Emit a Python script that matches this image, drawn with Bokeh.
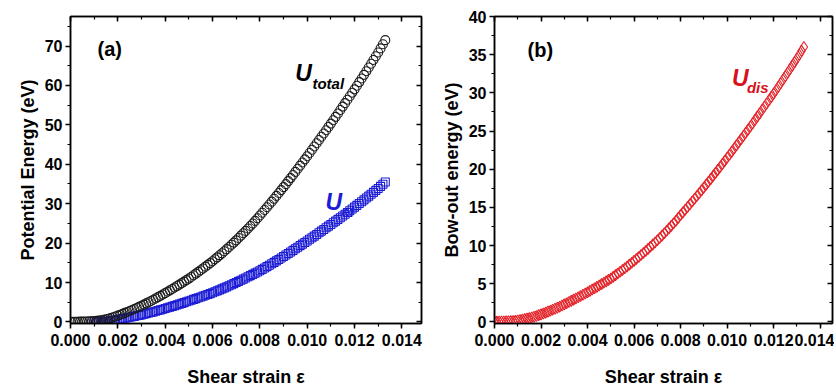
from bokeh.plotting import figure
from bokeh.models import (LinearAxis, SingleIntervalTicker, NumeralTickFormatter,
                          Range1d, Label, CustomJSTickFormatter)
from bokeh.layouts import row
from bokeh.embed import file_html
from bokeh.resources import INLINE

# ---------------- data ----------------
strain = [
    0.0000, 0.0001, 0.0002, 0.0003, 0.0004, 0.0005, 0.0006, 0.0007, 0.0008, 0.0009,
    0.0010, 0.0011, 0.0012, 0.0013, 0.0014, 0.0015, 0.0016, 0.0017, 0.0018, 0.0019,
    0.0020, 0.0021, 0.0022, 0.0023, 0.0024, 0.0025, 0.0026, 0.0027, 0.0028, 0.0029,
    0.0030, 0.0031, 0.0032, 0.0033, 0.0034, 0.0035, 0.0036, 0.0037, 0.0038, 0.0039,
    0.0040, 0.0041, 0.0042, 0.0043, 0.0044, 0.0045, 0.0046, 0.0047, 0.0048, 0.0049,
    0.0050, 0.0051, 0.0052, 0.0053, 0.0054, 0.0055, 0.0056, 0.0057, 0.0058, 0.0059,
    0.0060, 0.0061, 0.0062, 0.0063, 0.0064, 0.0065, 0.0066, 0.0067, 0.0068, 0.0069,
    0.0070, 0.0071, 0.0072, 0.0073, 0.0074, 0.0075, 0.0076, 0.0077, 0.0078, 0.0079,
    0.0080, 0.0081, 0.0082, 0.0083, 0.0084, 0.0085, 0.0086, 0.0087, 0.0088, 0.0089,
    0.0090, 0.0091, 0.0092, 0.0093, 0.0094, 0.0095, 0.0096, 0.0097, 0.0098, 0.0099,
    0.0100, 0.0101, 0.0102, 0.0103, 0.0104, 0.0105, 0.0106, 0.0107, 0.0108, 0.0109,
    0.0110, 0.0111, 0.0112, 0.0113, 0.0114, 0.0115, 0.0116, 0.0117, 0.0118, 0.0119,
    0.0120, 0.0121, 0.0122, 0.0123, 0.0124, 0.0125, 0.0126, 0.0127, 0.0128, 0.0129,
    0.0130, 0.0131, 0.0132, 0.0133,
]

u_total = [
    0.05, 0.05, 0.06, 0.06, 0.07, 0.08, 0.09, 0.11, 0.13, 0.16,
    0.20, 0.26, 0.34, 0.43, 0.54, 0.66, 0.81, 0.98, 1.17, 1.38,
    1.60, 1.82, 2.05, 2.29, 2.53, 2.78, 3.03, 3.28, 3.55, 3.82,
    4.10, 4.40, 4.71, 5.01, 5.32, 5.64, 5.96, 6.28, 6.62, 6.95,
    7.30, 7.65, 8.01, 8.36, 8.73, 9.10, 9.47, 9.84, 10.22, 10.61,
    11.00, 11.41, 11.84, 12.26, 12.69, 13.13, 13.57, 14.02, 14.47, 14.93,
    15.40, 15.89, 16.39, 16.90, 17.41, 17.94, 18.47, 19.02, 19.57, 20.13,
    20.70, 21.29, 21.89, 22.49, 23.10, 23.71, 24.34, 24.98, 25.63, 26.31,
    27.00, 27.69, 28.39, 29.09, 29.80, 30.52, 31.24, 31.98, 32.71, 33.45,
    34.20, 34.96, 35.73, 36.50, 37.28, 38.07, 38.86, 39.65, 40.45, 41.25,
    42.05, 42.86, 43.68, 44.50, 45.33, 46.16, 46.99, 47.82, 48.65, 49.48,
    50.32, 51.18, 52.04, 52.90, 53.77, 54.64, 55.51, 56.38, 57.26, 58.14,
    59.02, 59.93, 60.84, 61.76, 62.69, 63.62, 64.56, 65.50, 66.45, 67.40,
    68.36, 69.40, 70.45, 71.50,
]

# elastic energy: points start at strain 0.0010
strain_el = strain[10:]
u_el = [
    0.00, 0.01, 0.03, 0.06, 0.10, 0.15, 0.22, 0.30, 0.39, 0.49,
    0.60, 0.71, 0.82, 0.94, 1.06, 1.18, 1.30, 1.42, 1.55, 1.67,
    1.80, 1.95, 2.10, 2.25, 2.40, 2.56, 2.72, 2.88, 3.05, 3.22,
    3.40, 3.58, 3.76, 3.94, 4.13, 4.32, 4.51, 4.70, 4.90, 5.10,
    5.30, 5.50, 5.71, 5.91, 6.12, 6.33, 6.54, 6.75, 6.96, 7.18,
    7.40, 7.64, 7.88, 8.13, 8.38, 8.64, 8.90, 9.17, 9.44, 9.72,
    10.00, 10.29, 10.58, 10.87, 11.16, 11.45, 11.75, 12.06, 12.37, 12.68,
    13.00, 13.34, 13.69, 14.04, 14.39, 14.75, 15.11, 15.48, 15.85, 16.22,
    16.60, 16.98, 17.37, 17.76, 18.15, 18.55, 18.95, 19.35, 19.75, 20.15,
    20.55, 20.96, 21.37, 21.78, 22.20, 22.62, 23.04, 23.46, 23.88, 24.30,
    24.72, 25.15, 25.58, 26.01, 26.45, 26.89, 27.33, 27.77, 28.22, 28.67,
    29.12, 29.58, 30.04, 30.50, 30.97, 31.44, 31.92, 32.40, 32.88, 33.37,
    33.86, 34.40, 34.95, 35.50,
]

u_dis = [
    0.05, 0.05, 0.06, 0.06, 0.07, 0.08, 0.09, 0.11, 0.13, 0.16,
    0.20, 0.25, 0.31, 0.37, 0.44, 0.51, 0.59, 0.68, 0.78, 0.89,
    1.00, 1.11, 1.23, 1.35, 1.47, 1.60, 1.73, 1.86, 2.00, 2.15,
    2.30, 2.45, 2.61, 2.76, 2.92, 3.08, 3.24, 3.40, 3.57, 3.73,
    3.90, 4.07, 4.25, 4.42, 4.60, 4.78, 4.96, 5.14, 5.32, 5.51,
    5.70, 5.91, 6.13, 6.35, 6.57, 6.80, 7.03, 7.27, 7.51, 7.75,
    8.00, 8.25, 8.51, 8.77, 9.03, 9.30, 9.57, 9.85, 10.13, 10.41,
    10.70, 11.00, 11.31, 11.62, 11.94, 12.26, 12.59, 12.92, 13.26, 13.63,
    14.00, 14.35, 14.70, 15.05, 15.41, 15.77, 16.13, 16.50, 16.86, 17.23,
    17.60, 17.98, 18.36, 18.74, 19.13, 19.52, 19.91, 20.30, 20.70, 21.10,
    21.50, 21.90, 22.31, 22.72, 23.13, 23.54, 23.95, 24.36, 24.77, 25.18,
    25.60, 26.03, 26.46, 26.89, 27.32, 27.75, 28.18, 28.61, 29.04, 29.47,
    29.90, 30.35, 30.80, 31.26, 31.72, 32.18, 32.64, 33.10, 33.57, 34.03,
    34.50, 35.00, 35.50, 36.00,
]

x_title = "Shear strain \u03b5"
y_title_a = "Potential Energy (eV)"
y_title_b = "Bow-out energy (eV)"

FONT = "Liberation Sans"
H = 389


def style_axis(ax, mirror=False):
    ax.axis_line_width = 1.5
    ax.axis_line_color = "black"
    ax.major_tick_line_width = 1.5
    ax.minor_tick_line_width = 1.2
    ax.major_tick_line_color = "black"
    ax.minor_tick_line_color = "black"
    if mirror:
        ax.major_tick_in, ax.major_tick_out = 5, 0
        ax.minor_tick_in, ax.minor_tick_out = 3, 0
        ax.formatter = CustomJSTickFormatter(code="return ''")
        ax.major_label_standoff = 0
        ax.axis_label = None
    else:
        ax.major_tick_in, ax.major_tick_out = 0, 5
        ax.minor_tick_in, ax.minor_tick_out = 0, 3
        ax.major_label_standoff = 3
        ax.major_label_text_font = FONT
        ax.major_label_text_font_style = "bold"
        ax.major_label_text_font_size = "16px"
        ax.major_label_text_color = "black"
        ax.axis_label_text_font = FONT
        ax.axis_label_text_font_style = "bold"
        ax.axis_label_text_font_size = "18px"
        ax.axis_label_text_color = "black"


def make_panel(width, left_border, right_border, xmax, yr, yint, xlabel, ylabel):
    p = figure(width=width, height=H, output_backend="svg", toolbar_location=None,
               x_range=Range1d(0, xmax), y_range=Range1d(*yr),
               x_axis_type=None, y_axis_type=None,
               min_border_left=left_border, min_border_right=right_border,
               min_border_top=16, min_border_bottom=65)
    p.grid.visible = False
    p.outline_line_color = "black"
    p.outline_line_width = 1.5
    p.background_fill_color = "white"
    p.border_fill_color = "white"

    bottom = LinearAxis(ticker=SingleIntervalTicker(interval=0.002, num_minor_ticks=2),
                        formatter=NumeralTickFormatter(format="0.000"),
                        axis_label=xlabel)
    left = LinearAxis(ticker=SingleIntervalTicker(interval=yint, num_minor_ticks=2),
                      axis_label=ylabel)
    style_axis(bottom)
    style_axis(left)
    bottom.major_label_standoff = 5
    bottom.axis_label_standoff = 18
    left.axis_label_standoff = 4
    p.add_layout(bottom, "below")
    p.add_layout(left, "left")

    top = LinearAxis(ticker=SingleIntervalTicker(interval=0.002, num_minor_ticks=2))
    right = LinearAxis(ticker=SingleIntervalTicker(interval=yint, num_minor_ticks=2))
    style_axis(top, mirror=True)
    style_axis(right, mirror=True)
    p.add_layout(top, "above")
    p.add_layout(right, "right")
    return p


# ---------------- panel (a) ----------------
pa = make_panel(438, 70, 17, 0.01483, (-0.4, 77.5), 10, x_title, y_title_a)

pa.scatter(strain_el, u_el, marker="square", size=8, fill_color=None,
           line_color="#1c1cd6", line_width=1.1)
pa.scatter(strain, u_total, marker="circle", size=9, fill_color=None,
           line_color="#1a1a1a", line_width=1.1)

pa.add_layout(Label(x=0.00114, y=69.3, text="(a)", text_font=FONT, text_font_style="bold",
                    text_font_size="20px", text_baseline="middle", text_color="black"))
pa.add_layout(Label(x=0.0095, y=63.1, text="U", text_font=FONT, text_font_style="bold italic",
                    text_font_size="23px", text_baseline="middle", text_color="black"))
pa.add_layout(Label(x=0.01022, y=60.6, text="total", text_font=FONT, text_font_style="bold italic",
                    text_font_size="15px", text_baseline="middle", text_color="black"))
pa.add_layout(Label(x=0.01077, y=30.4, text="U", text_font=FONT, text_font_style="bold italic",
                    text_font_size="23px", text_baseline="middle", text_color="#1c1cd6"))
pa.add_layout(Label(x=0.01145, y=27.9, text="el", text_font=FONT, text_font_style="bold italic",
                    text_font_size="15px", text_baseline="middle", text_color="#1c1cd6"))

# ---------------- panel (b) ----------------
pb = make_panel(396, 50, 2, 0.01453, (-0.2, 40), 5, x_title, y_title_b)

pb.scatter(strain, u_dis, marker="diamond", size=11, fill_color=None,
           line_color="#e32228", line_width=1.1)

pb.add_layout(Label(x=0.00142, y=35.6, text="(b)", text_font=FONT, text_font_style="bold",
                    text_font_size="20px", text_baseline="middle", text_color="black"))
pb.add_layout(Label(x=0.01021, y=31.9, text="U", text_font=FONT, text_font_style="bold italic",
                    text_font_size="23px", text_baseline="middle", text_color="#d8101c"))
pb.add_layout(Label(x=0.01085, y=30.7, text="dis", text_font=FONT, text_font_style="bold italic",
                    text_font_size="15px", text_baseline="middle", text_color="#d8101c"))

layout = row(pa, pb, spacing=0)
open("out.html", "w").write(file_html(layout, INLINE))
